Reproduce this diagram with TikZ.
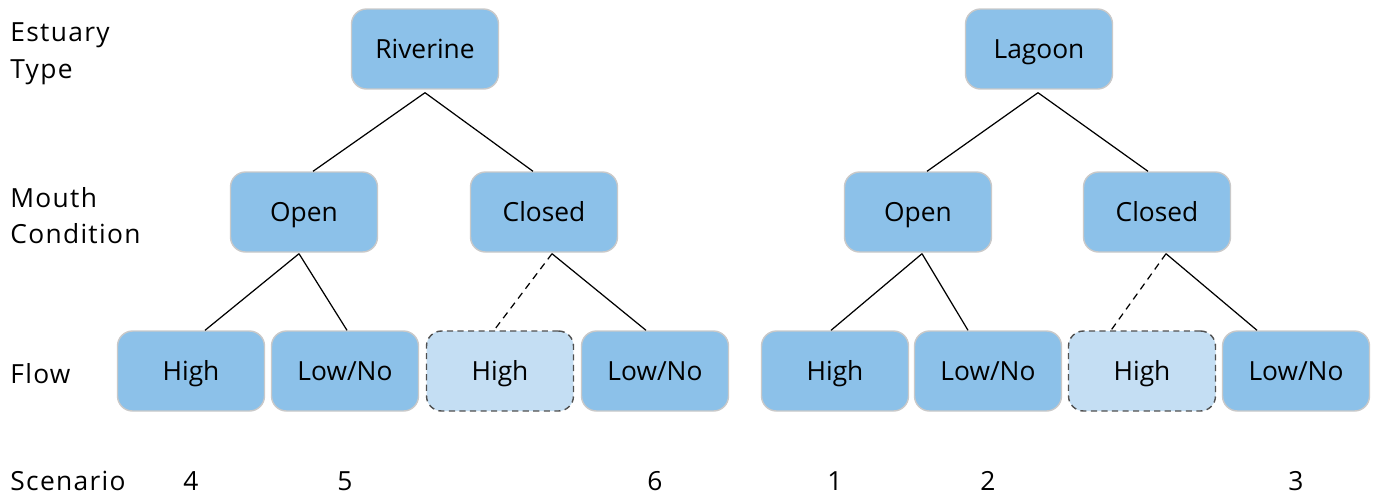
\documentclass[tikz,border=0pt]{standalone}
\usepackage{fontspec}
\setmainfont{Open Sans}
\usetikzlibrary{calc}

\definecolor{boxfill}{HTML}{8CC1E9}
\definecolor{boxline}{HTML}{C9C9C9}
\definecolor{optfill}{HTML}{C4DEF3}
\definecolor{optline}{HTML}{505050}

\tikzstyle{rowlabel} = [font=\fontsize{15}{21}\selectfont\addfontfeature{LetterSpace=5},inner sep=0pt,align=left]
\tikzstyle{number} = [font=\fontsize{15}{18}\selectfont,inner sep=0pt]
\tikzstyle{box} = [rectangle,rounded corners=0.3cm,draw=boxline,fill=boxfill,line width=0.8pt,
  minimum width=2.94cm,minimum height=1.6cm,font=\fontsize{15}{18}\selectfont,text height=12.7pt,text depth=2pt]
\tikzstyle{optbox} = [box,draw=optline,fill=optfill,dash pattern=on 3.5pt off 2.5pt]
\tikzstyle{link} = [draw,line width=0.7pt,black]
\tikzstyle{optlink} = [link,dash pattern=on 4pt off 3pt]

\begin{document}
\begin{tikzpicture}[x=0.02cm,y=-0.02cm]
      \useasboundingbox (0,0) rectangle (1375,498);
      %row labels
      \node[rowlabel,anchor=north west] (typelbl) at (10,22) {Estuary\\Type};
      \node[rowlabel,anchor=north west,font=\fontsize{15}{20.5}\selectfont\addfontfeature{LetterSpace=5}] (mouthlbl) at (10,187) {Mouth\\Condition};
      \node[rowlabel,anchor=base west] (flowlbl) at (10,383) {Flow};
      \node[rowlabel,anchor=base west] (scenlbl) at (10,490) {Scenario};

      %nodes
      \foreach \nodename/\x/\y/\value/\kind in {
        riv/425/49/Riverine/box,
        lag/1039/49/Lagoon/box,
        ro/304/212/Open/box,
        rc/544/212/Closed/box,
        lo/918/212/Open/box,
        lc/1157/212/Closed/box,
        rh/191/371/High/box,
        rl/345/371/{Low/No}/box,
        rd/500/371/High/optbox,
        rn/655/371/{Low/No}/box,
        lh/835/371/High/box,
        ll/988/371/{Low/No}/box,
        ld/1142/371/High/optbox,
        ln/1296/371/{Low/No}/box}
      {
        \node[\kind] (\nodename) at (\x,\y) {\value};
      };

      %scenarios
      \foreach \nodename/\x/\value in {
        sc4/191/4, sc5/345/5, sc6/655/6, sc1/835/1, sc2/988/2, sc3/1296/3}
      {
        \node[number,anchor=base] (\nodename) at (\x,490) {\value};
      };

      %edges
      \foreach \from/\fx/\fy/\to/\tx/\kind in {
        riv/0/3/ro/9/link, riv/0/3/rc/-11/link,
        lag/-1/3/lo/9/link, lag/-1/3/lc/-9/link,
        ro/-5/1/rh/14/link, ro/-5/1/rl/2/link,
        rc/8/1/rd/-6/optlink, rc/8/1/rn/-9/link,
        lo/4/1/lh/-4/link, lo/4/1/ll/-20/link,
        lc/9/1/ld/-31/optlink, lc/9/1/ln/-39/link}
      {
        \draw[\kind] ($(\from.south)+(\fx,\fy)$) -- ($(\to.north)+(\tx,0)$);
      };
\end{tikzpicture}
\end{document}
